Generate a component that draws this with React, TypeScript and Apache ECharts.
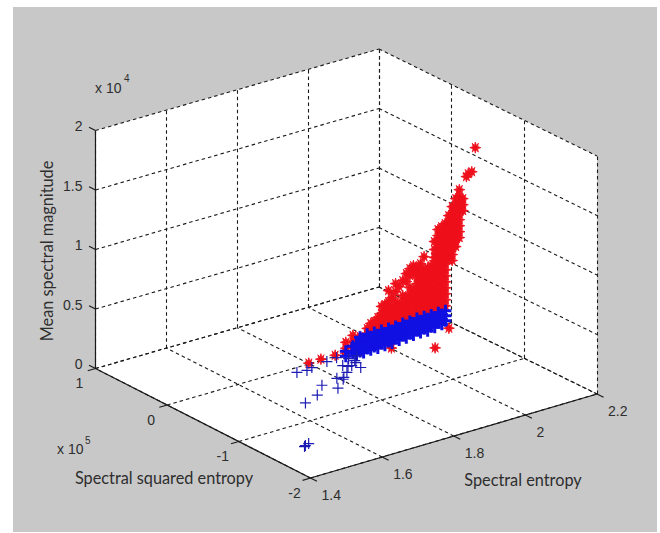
import React, { useEffect, useRef } from "react";
import * as echarts from "echarts";

// Axis ticks
const entropyTicks = [1.4, 1.6, 1.8, 2, 2.2];
const squaredTicks = [-2, -1, 0, 1];
const magnitudeTicks = [0, 5000, 10000, 15000, 20000];
const entropyLabels = ["1.4", "1.6", "1.8", "2", "2.2"];
const squaredLabels = ["-2", "-1", "0", "1"];
const magnitudeLabels = ["0", "0.5", "1", "1.5", "2"];

// Red: columns of [spectral entropy, squared entropy (x 1e5), magnitudes]
const redBody: [number, number, number[]][] = [
  [2.16, -0.11, [6630, 6120, 5620, 5120, 4610, 4110, 3600, 3100, 2600, 2090]],
  [2.15, -0.11, [6530, 6030, 5530, 5020, 4520, 4010, 3510, 3000, 2500, 2000]],
  [2.14, -0.11, [6300, 5800, 5290, 4790, 4280, 3780, 3280, 2770, 2270, 1760]],
  [2.13, -0.11, [6130, 5630, 5120, 4620, 4120, 3610, 3110, 2610, 2100, 1600]],
  [2.12, -0.11, [5800, 5300, 4800, 4290, 3790, 3280, 2780, 2280, 1770]],
  [2.11, -0.11, [5730, 5220, 4720, 4210, 3710, 3210, 2700, 2200, 1690]],
  [2.1, -0.11, [6740, 5640, 5140, 4640, 4130, 3630, 3120, 2620, 2120, 1610]],
  [2.09, -0.11, [6240, 5730, 5230, 4730, 4220, 3720, 3210, 2710, 2210, 1700]],
  [2.08, -0.11, [5990, 5650, 5150, 4650, 4140, 3640, 3130, 2630, 2130, 1620]],
  [2.07, -0.11, [6250, 5740, 4230, 3730, 3220, 2720, 2210, 1710]],
  [2.06, -0.11, [6080, 5490, 4490, 3980, 3480, 2970, 2470, 1970, 1460]],
  [2.05, -0.11, [5750, 5080, 3730, 3230, 2730, 2220, 1720]],
  [2.04, -0.11, [5250, 3990, 3490, 2980, 2480, 1970, 1470]],
  [2.03, -0.11, [4830, 3320, 2820, 2310, 1810]],
  [2.02, -0.11, [5170, 4500, 3660, 3160, 2650, 2150, 1650]],
  [2.01, -0.11, [4090, 3250, 2740, 2240, 1730]],
  [2.0, -0.11, [4760, 3840, 3330, 2830, 2330, 1820, 1320]],
  [1.99, -0.11, [3680, 3170, 2670, 2160, 1660]],
  [1.98, -0.11, [3600, 3010, 2500, 2000, 1500]],
  [1.97, -0.11, [2760, 2260, 1750]],
  [1.96, -0.11, [2510, 2010, 1500]],
  [1.95, -0.11, [2430, 1930, 1420]],
  [1.94, -0.11, [2100, 1600]],
  [1.92, -0.11, [1600, 1100, 680]],
  [1.9, -0.11, [1860, 1360, 860]],
  [1.88, -0.11, [1450, 950, 530]],
  [1.85, -0.11, [620]],
  [1.81, -0.11, [640]],
  [1.776, -0.11, [600]],
];
const redSpire: [number, number, number[]][] = [
  [2.195, -0.35, [15800]],
  [2.185, -0.35, [13860]],
  [2.175, -0.35, [13780]],
  [2.17, -0.35, [13580]],
  [2.16, -0.35, [11820, 11310, 10810]],
  [2.15, -0.35, [12660, 12160, 11650, 11150, 10640, 10140, 9630, 9130, 8630]],
  [2.14, -0.35, [12000, 11490, 10990, 10480, 9980, 9480, 8970, 8470, 7960]],
  [2.13, -0.35, [11410, 10910, 10400, 9900, 9400, 8890, 8390, 7880, 7380, 6880]],
  [2.12, -0.35, [10740, 10240, 9740, 9230, 8730, 8220, 7720, 7220]],
  [2.11, -0.35, [10160, 9660, 9150, 8650, 8150, 7640, 7140]],
  [2.1, -0.35, [9980, 9490, 8990, 8480, 7980, 7480, 6970]],
  [2.09, -0.35, [9830, 9330, 8820, 8320, 7820, 7310, 6810]],
  [2.08, -0.35, [8910, 8240, 7570]],
];
const redStray: [number, number, number][] = [
  [2.0, -0.15, 50],
  [2.078, -0.37, 50],
  [2.173, -0.094, 50],
];

// Blue: dense band, columns of [spectral entropy, squared entropy, magnitudes]
const blueBand: [number, number, number[]][] = [
  [2.16, -0.11, [1670, 1250, 830]],
  [2.15, -0.11, [1450, 1040, 620]],
  [2.14, -0.11, [1680, 1260, 840]],
  [2.13, -0.11, [1420, 960, 560]],
  [2.12, -0.11, [1660, 1190, 680]],
  [2.11, -0.11, [1440, 930, 430]],
  [2.1, -0.11, [1700, 1190, 690]],
  [2.09, -0.11, [1450, 950, 450]],
  [2.08, -0.11, [1710, 1200, 700]],
  [2.07, -0.11, [1420, 910, 410]],
  [2.06, -0.11, [1630, 1130, 620]],
  [2.05, -0.11, [1380, 880, 370]],
  [2.04, -0.11, [1640, 1130, 630]],
  [2.03, -0.11, [1350, 850, 340]],
  [2.02, -0.11, [1560, 1060, 550]],
  [2.01, -0.11, [1320, 770, 270]],
  [2.0, -0.11, [1570, 980, 480]],
  [1.99, -0.11, [1290, 740, 240]],
  [1.98, -0.11, [1580, 990, 490]],
  [1.97, -0.11, [1300, 700, 200]],
  [1.96, -0.11, [1590, 1000, 410]],
  [1.95, -0.11, [1310, 720, 210]],
  [1.94, -0.11, [1600, 1010, 420]],
  [1.93, -0.11, [1190, 630, 170]],
  [1.92, -0.11, [1520, 850, 340]],
  [1.91, -0.11, [1100, 600, 150]],
  [1.9, -0.11, [940, 350]],
  [1.88, -0.11, [700, 280]],
];
const blueStrayEntropy = [1.745, 1.77, 1.789, 1.837, 1.868, 1.851, 1.795, 1.744, 1.701, 1.652, 1.762, 1.497, 1.515, 1.502, 1.811, 1.834, 1.867, 1.876, 1.911, 1.886, 1.803, 1.89, 1.857, 1.885];
const blueStraySquared = [-0.098, -0.114, -0.088, -0.06, -0.041, -0.21, -0.405, -0.45, -0.598, -0.676, -0.583, -1.433, -1.401, -1.42, -0.423, -0.352, -0.256, -0.336, -0.108, -0.119, -0.453, -0.184, -0.253, -0.224];

const W = 660;
const H = 533;
const xMin = 1.4, xMax = 2.2, yMin = -2, yMax = 1, zMax = 20000;

// Orthographic-like view of the cube: floor corners in pixels, and the wall height
const cB = [310.5, 478], cC = [597, 394], cA = [95.5, 368.5], cD = [379, 287];
const wallHeight = 238;

function project(x: number, y: number, z: number): [number, number] {
  const u = (x - xMin) / (xMax - xMin);
  const v = (y - yMin) / (yMax - yMin);
  const px = cB[0] + u * (cC[0] - cB[0]) + v * (cA[0] - cB[0]) + u * v * (cD[0] - cC[0] - cA[0] + cB[0]);
  const py = cB[1] + u * (cC[1] - cB[1]) + v * (cA[1] - cB[1]) + u * v * (cD[1] - cC[1] - cA[1] + cB[1]);
  return [px, py - (z / zMax) * wallHeight];
}

const seg = (a: [number, number, number], b: [number, number, number]) => ({
  coords: [project(a[0], a[1], a[2]), project(b[0], b[1], b[2])],
});

const gridSegments: any[] = [];
entropyTicks.forEach((x) => {
  gridSegments.push(seg([x, yMin, 0], [x, yMax, 0]));
  gridSegments.push(seg([x, yMax, 0], [x, yMax, zMax]));
});
squaredTicks.forEach((y) => {
  gridSegments.push(seg([xMin, y, 0], [xMax, y, 0]));
  gridSegments.push(seg([xMax, y, 0], [xMax, y, zMax]));
});
magnitudeTicks.forEach((z) => {
  gridSegments.push(seg([xMin, yMax, z], [xMax, yMax, z]));
  gridSegments.push(seg([xMax, yMax, z], [xMax, yMin, z]));
});

const axisSegments = [
  seg([xMin, yMax, 0], [xMin, yMax, zMax]),
  seg([xMin, yMax, 0], [xMin, yMin, 0]),
  seg([xMin, yMin, 0], [xMax, yMin, 0]),
];
const tickSegments: any[] = [];
entropyTicks.forEach((x) => tickSegments.push(seg([x, yMin, 0], [x, yMin - 0.09, 0])));
squaredTicks.forEach((y) => tickSegments.push(seg([xMin, y, 0], [xMin - 0.022, y, 0])));
magnitudeTicks.forEach((z) => tickSegments.push(seg([xMin, yMax, z], [xMin, yMax + 0.09, z])));

const flat = (cols: [number, number, number[]][]) => {
  const out: [number, number][] = [];
  cols.forEach(([x, y, zs]) => zs.forEach((z) => out.push(project(x, y, z))));
  return out;
};

const redPoints = [...flat(redBody), ...flat(redSpire), ...redStray.map(([x, y, z]) => project(x, y, z))];
const bandPoints = flat(blueBand);
const strayPoints = blueStrayEntropy.map((x, i) => project(x, blueStraySquared[i], 50));

const STAR = "path://M5 0L5.8 3L7.8 1L7 4L10 5L7 6L7.8 9L5.8 7L5 10L4.2 7L2.2 9L3 6L0 5L3 4L2.2 1L4.2 3Z";
const PLUS = "path://M5 0V10M0 5H10";
const RED = "#ee0f1a";
const BLUE = "#1010e2";
const BLUE_STRAY = "#1c1cb4";
const INK = "#2e2e2e";
const TICK_FONT = "'Liberation Sans', Arial, sans-serif";
const TITLE_FONT = "Lato, 'Open Sans', sans-serif";

const label = (text: string, x: number, y: number, align: string, size = 14, font = TICK_FONT, rotation = 0) => ({
  type: "text",
  x,
  y,
  rotation,
  z: 10,
  style: { text, fill: INK, font: `${size}px ${font}`, align, verticalAlign: "middle" },
});

export default function App() {
  const ref = useRef<HTMLDivElement>(null);
  useEffect(() => {
    document.body.style.margin = "0";
    const chart = echarts.init(ref.current!, undefined, { renderer: "svg" });
    const wall = [
      project(xMin, yMax, 0),
      project(xMin, yMin, 0),
      project(xMax, yMin, 0),
      project(xMax, yMin, zMax),
      project(xMax, yMax, zMax),
      project(xMin, yMax, zMax),
    ];
    const texts: any[] = [];
    magnitudeTicks.forEach((z, i) => {
      const p = project(xMin, yMax, z);
      texts.push(label(magnitudeLabels[i], p[0] - 13, p[1] - 4.5, "right"));
    });
    squaredTicks.forEach((y, i) => {
      const p = project(xMin, y, 0);
      texts.push(label(squaredLabels[i], p[0] - 16, p[1] + 14.5, "center"));
    });
    entropyTicks.forEach((x, i) => {
      const p = project(x, yMin, 0);
      texts.push(label(entropyLabels[i], p[0] + 11, p[1] + 17, "left"));
    });
    texts.push(label("x 10", 95, 88, "left"));
    texts.push(label("4", 124, 78, "left", 10));
    texts.push(label("x 10", 57, 449, "left"));
    texts.push(label("5", 85, 440, "left", 10));
    texts.push(label("Mean spectral magnitude", 46, 251, "center", 16.3, TITLE_FONT, Math.PI / 2));
    texts.push(label("Spectral squared entropy", 164, 477, "center", 16.3, TITLE_FONT));
    texts.push(label("Spectral entropy", 523, 479, "center", 16.3, TITLE_FONT));

    chart.setOption({
      animation: false,
      backgroundColor: "#ffffff",
      grid: { left: 0, right: 0, top: 0, bottom: 0 },
      xAxis: { type: "value", min: 0, max: W, show: false },
      yAxis: { type: "value", min: 0, max: H, inverse: true, show: false },
      graphic: [
        { type: "rect", z: -10, shape: { x: 13, y: 7, width: 644, height: 525 }, style: { fill: "#c8c8c8" } },
        { type: "polygon", z: -9, shape: { points: wall }, style: { fill: "#ffffff" } },
        ...texts,
      ],
      series: [
        {
          type: "lines",
          coordinateSystem: "cartesian2d",
          z: 1,
          silent: true,
          data: gridSegments,
          lineStyle: { color: "#1a1a1a", width: 1.1, type: [3.5, 3], opacity: 1 },
        },
        {
          type: "lines",
          coordinateSystem: "cartesian2d",
          z: 2,
          silent: true,
          data: [...axisSegments, ...tickSegments],
          lineStyle: { color: "#1a1a1a", width: 1.2, type: "solid", opacity: 1 },
        },
        {
          type: "scatter",
          z: 3,
          silent: true,
          symbol: STAR,
          symbolSize: 11,
          data: redPoints,
          itemStyle: { color: RED, borderColor: RED, borderWidth: 0.8, opacity: 1 },
        },
        {
          type: "scatter",
          z: 4,
          silent: true,
          symbol: PLUS,
          symbolSize: 12,
          data: bandPoints,
          itemStyle: { color: BLUE, borderColor: BLUE, borderWidth: 3, opacity: 1 },
        },
        {
          type: "scatter",
          z: 5,
          silent: true,
          symbol: PLUS,
          symbolSize: 11,
          data: strayPoints,
          itemStyle: { color: BLUE_STRAY, borderColor: BLUE_STRAY, borderWidth: 1.2, opacity: 1 },
        },
      ],
    });
    return () => chart.dispose();
  }, []);
  return <div ref={ref} style={{ width: W, height: H }} />;
}
